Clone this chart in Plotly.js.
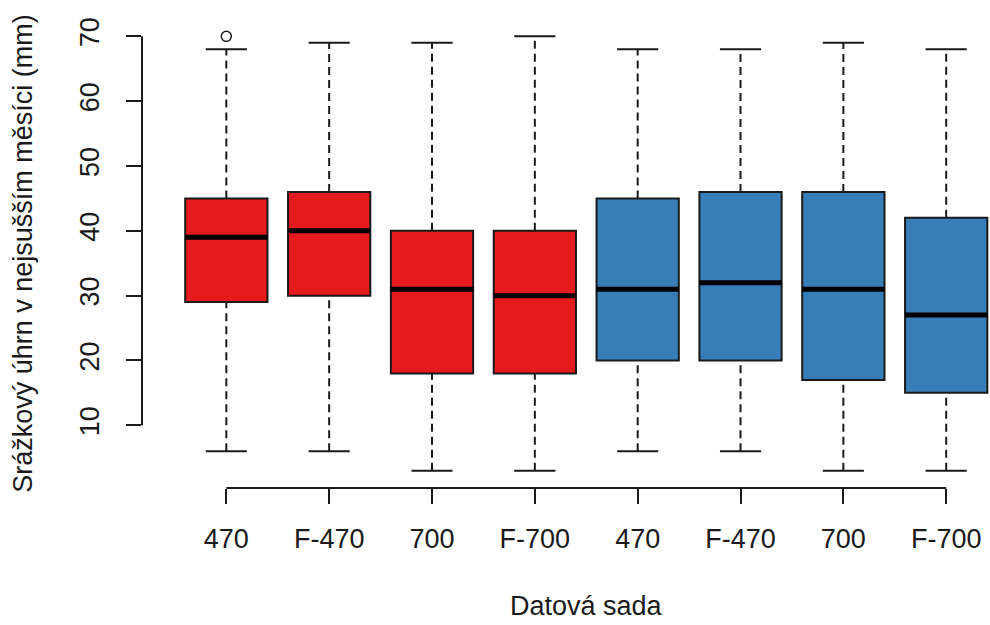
<!DOCTYPE html>
<html>
<head>
<meta charset="utf-8">
<script src="https://cdn.plot.ly/plotly-3.0.1.min.js"></script>
<style>html,body{margin:0;padding:0;background:#fff;}#chart{width:990px;height:625px;}</style>
</head>
<body>
<div id="chart"></div>
<script>
// ---- data ----
var categories = ["470", "F-470", "700", "F-700", "470", "F-470", "700", "F-700"];
var groupIndex = [0, 0, 0, 0, 1, 1, 1, 1];
var lowerWhisker = [6, 6, 3, 3, 6, 6, 3, 3];
var q1 = [29, 30, 18, 18, 20, 20, 17, 15];
var median = [39, 40, 31, 30, 31, 32, 31, 27];
var q3 = [45, 46, 40, 40, 45, 46, 46, 42];
var upperWhisker = [68, 69, 69, 70, 68, 68, 69, 68];
var outlierX = [1];
var outlierY = [70];
var yTicks = [10, 20, 30, 40, 50, 60, 70];
var xTitle = "Datová sada";
var yTitle = "Srážkový úhrn v nejsušším měsíci (mm)";

// ---- styles ----
var palette = ["#E41A1C", "#377EB8"];
var FONT = "Liberation Sans, Arial, sans-serif";
var FS = 27;
var INK = "#1a1a1a";
var boxHalf = 0.4, capHalf = 0.2;

var pos = categories.map(function (_, i) { return i + 1; });

var traces = [];

// whiskers (dashed)
var wx = [], wy = [];
pos.forEach(function (p, i) {
  wx.push(p, p, null, p, p, null);
  wy.push(lowerWhisker[i], q1[i], null, q3[i], upperWhisker[i], null);
});
traces.push({type: "scatter", mode: "lines", x: wx, y: wy, hoverinfo: "skip",
  line: {color: INK, width: 2, dash: "8px,5px"}, showlegend: false});

// caps
var cx = [], cy = [];
pos.forEach(function (p, i) {
  cx.push(p - capHalf, p + capHalf, null, p - capHalf, p + capHalf, null);
  cy.push(lowerWhisker[i], lowerWhisker[i], null, upperWhisker[i], upperWhisker[i], null);
});
traces.push({type: "scatter", mode: "lines", x: cx, y: cy, hoverinfo: "skip",
  line: {color: INK, width: 2}, showlegend: false});

// boxes
traces.push({type: "bar", x: pos,
  base: q1, y: q3.map(function (v, i) { return v - q1[i]; }),
  width: boxHalf * 2,
  marker: {color: groupIndex.map(function (g) { return palette[g]; }),
           line: {color: INK, width: 2}},
  showlegend: false, hoverinfo: "skip"});

// medians
var mx = [], my = [];
pos.forEach(function (p, i) {
  mx.push(p - boxHalf, p + boxHalf, null);
  my.push(median[i], median[i], null);
});
traces.push({type: "scatter", mode: "lines", x: mx, y: my, hoverinfo: "skip",
  line: {color: "#000", width: 5}, showlegend: false});

// outliers
traces.push({type: "scatter", mode: "markers", x: outlierX, y: outlierY,
  marker: {symbol: "circle-open", size: 10, color: INK, line: {width: 1.5, color: INK}},
  showlegend: false, hoverinfo: "skip"});

var layout = {
  width: 990, height: 625,
  margin: {l: 142, r: 0, t: 18.6, b: 137.2, pad: 0},
  paper_bgcolor: "#fff", plot_bgcolor: "#fff",
  font: {family: FONT, size: FS, color: INK},
  barmode: "overlay",
  xaxis: {
    range: [0.18, 8.426], tickvals: pos, ticktext: categories,
    ticks: "outside", ticklen: 15, tickwidth: 2, tickcolor: INK,
    ticklabelstandoff: 12,
    showgrid: false, zeroline: false, showline: false,
    tickfont: {family: FONT, size: FS, color: INK}
  },
  yaxis: {
    range: [0.32, 72.68], tickvals: yTicks, ticktext: yTicks.map(String),
    ticks: "outside", ticklen: 15, tickwidth: 2, tickcolor: INK,
    tickangle: -90, ticklabelstandoff: 16,
    showgrid: false, zeroline: false, showline: false,
    tickfont: {family: FONT, size: FS, color: INK},
    title: {text: yTitle, font: {family: FONT, size: FS, color: INK}, standoff: 34}
  },
  annotations: [
    {text: xTitle, xref: "x", yref: "paper",
     x: (0.18 + 8.82) / 2, y: 0, yshift: -118,
     xanchor: "center", yanchor: "middle", showarrow: false,
     font: {family: FONT, size: FS, color: INK}}
  ],
  shapes: [
    {type: "line", xref: "x", yref: "paper", x0: pos[0], x1: pos[pos.length - 1], y0: 0, y1: 0,
     line: {color: INK, width: 2}},
    {type: "line", xref: "paper", yref: "y", x0: 0, x1: 0, y0: yTicks[0], y1: yTicks[yTicks.length - 1],
     line: {color: INK, width: 2}}
  ]
};

Plotly.newPlot("chart", traces, layout, {displayModeBar: false, staticPlot: true});
</script>
</body>
</html>
